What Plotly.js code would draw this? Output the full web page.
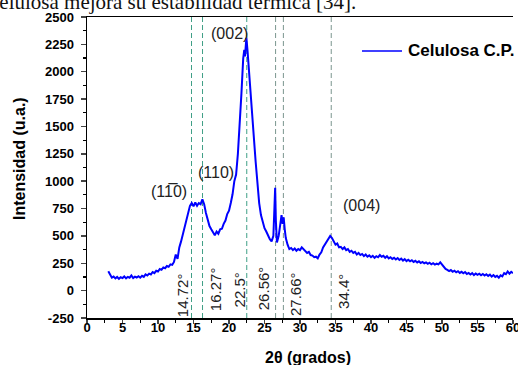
<!DOCTYPE html>
<html>
<head>
<meta charset="utf-8">
<script src="https://cdn.plot.ly/plotly-3.0.1.min.js"></script>
<style>html,body{margin:0;padding:0;background:#fff;}#chart{width:518px;height:365px;}</style>
</head>
<body>
<div id="chart"></div>
<script>
// 2θ (degrees) and intensity (a.u.)
const twoTheta = [
3.0,3.25,3.5,3.75,4.0,4.25,4.5,4.75,5.0,5.25,5.5,5.75,6.0,6.25,6.5,6.75,7.0,7.25,7.5,7.75,
8.0,8.25,8.5,8.75,9.0,9.25,9.5,9.75,10.0,10.25,10.5,10.75,11.0,11.25,11.5,11.75,12.0,12.25,12.5,12.75,
13.0,13.25,13.5,13.75,14.0,14.25,14.5,14.75,15.0,15.25,15.5,15.75,16.0,16.25,16.5,16.75,17.0,17.25,17.5,17.75,
18.0,18.25,18.5,18.75,19.0,19.25,19.5,19.75,20.0,20.25,20.5,20.75,21.0,21.25,21.5,21.75,22.0,22.15,22.25,22.45,
22.6,22.75,23.0,23.25,23.5,23.75,24.0,24.25,24.5,24.75,25.0,25.25,25.5,25.75,26.0,26.25,26.4,26.5,26.6,26.75,
27.0,27.25,27.4,27.55,27.7,27.85,28.0,28.25,28.5,28.75,29.0,29.25,29.5,29.75,30.0,30.25,30.5,30.75,31.0,31.25,
31.5,31.75,32.0,32.25,32.5,32.75,33.0,33.25,33.5,33.75,34.0,34.25,34.5,34.75,35.0,35.25,35.5,35.75,36.0,36.25,
36.5,36.75,37.0,37.25,37.5,37.75,38.0,38.25,38.5,38.75,39.0,39.25,39.5,39.75,40.0,40.25,40.5,40.75,41.0,41.25,
41.5,41.75,42.0,42.25,42.5,42.75,43.0,43.25,43.5,43.75,44.0,44.25,44.5,44.75,45.0,45.25,45.5,45.75,46.0,46.25,
46.5,46.75,47.0,47.25,47.5,47.75,48.0,48.25,48.5,48.75,49.0,49.25,49.5,49.75,50.0,50.25,50.5,50.75,51.0,51.25,
51.5,51.75,52.0,52.25,52.5,52.75,53.0,53.25,53.5,53.75,54.0,54.25,54.5,54.75,55.0,55.25,55.5,55.75,56.0,56.25,
56.5,56.75,57.0,57.25,57.5,57.75,58.0,58.25,58.5,58.75,59.0,59.25,59.5,59.75,60.0
];
const intensity = [
178,140,118,128,112,125,108,122,115,130,112,126,118,138,115,128,120,132,118,135,
125,148,138,155,148,170,160,182,175,198,190,212,205,225,218,240,235,262,330,290,
395,450,520,590,650,720,775,800,770,805,775,800,790,835,790,710,640,590,560,525,
505,540,520,560,565,610,640,700,730,800,880,1000,1060,1250,1480,1800,2120,2200,2140,2310,
2200,2050,1820,1600,1400,1180,960,800,690,620,570,540,500,470,450,500,760,940,640,440,
500,620,690,610,670,560,480,420,380,390,370,385,365,380,370,395,375,360,345,355,
325,320,305,310,295,330,350,395,420,450,465,500,480,450,420,430,395,400,380,395,
370,380,355,365,345,355,330,345,325,335,315,330,310,322,305,318,300,315,305,325,
310,318,300,315,295,305,290,300,285,298,280,292,275,288,270,282,268,278,262,272,
258,268,252,262,250,258,245,255,240,250,238,246,240,258,240,215,198,190,178,188,
172,182,168,178,162,172,158,170,152,162,148,160,142,156,145,155,140,152,138,150,
135,146,128,142,125,135,118,140,130,160,150,175,155,172,160
];
const seriesName = "Celulosa C.P.";
const xTitle = "2θ (grados)";
const yTitle = "Intensidad (u.a.)";

// axis tick values and labels
const xTickVals = [0, 5, 10, 15, 20, 25, 30, 35, 40, 45, 50, 55, 60];
const xTickText = ["0", "5", "10", "15", "20", "25", "30", "35", "40", "45", "50", "55", "60"];
const yTickVals = [-250, 0, 250, 500, 750, 1000, 1250, 1500, 1750, 2000, 2250, 2500];
const yTickText = ["-250", "0", "250", "500", "750", "1000", "1250", "1500", "1750", "2000", "2250", "2500"];

// reference lines (2θ) and their labels
const refLines = [14.72, 16.27, 22.5, 26.56, 27.66, 34.4];
const refLabels = ["14.72°", "16.27°", "22.5°", "26.56°", "27.66°", "34.4°"];

// Miller index labels
const peakLabels = ["(11\u03050)", "(110)", "(002)", "(004)"];
const peakX = [11.5, 18.1, 20.0, 38.6];
const peakY = [910, 1076, 2353, 775];

// ---- styling / placement ----
const W = 518, H = 365, M = {l: 87, r: 5, t: 17, b: 47};
const PW = W - M.l - M.r, PH = H - M.t - M.b;
const px2paperX = (p) => (p - M.l) / PW;
const px2paperY = (p) => (H - M.b - p) / PH;

const labelShift = [-9, 13, -7, -12, 12, 12];
const labelYShift = [-5, 1, 1, 2, -3, -1];
const lineColors = ["#3f9f86", "#3f9f86", "#3f9f86", "#7a968f", "#7a968f", "#7a968f"];
const sans = "Liberation Sans, Arial, sans-serif";

const shapes = refLines.map((v, i) => ({
  type: "line", xref: "x", yref: "paper", x0: v, x1: v, y0: 0, y1: 1,
  line: {color: lineColors[i], width: 1, dash: "5px,3px"}, layer: "below"
}));
// legend sample line
shapes.push({
  type: "line", xref: "paper", yref: "paper",
  x0: px2paperX(362), x1: px2paperX(402), y0: px2paperY(51), y1: px2paperY(51),
  line: {color: "#0000ff", width: 1.6}
});

const labelFont = {family: sans, size: 15, color: "#222"};
const annotations = [];
refLines.forEach((v, i) => {
  annotations.push({
    x: v, y: 0, xref: "x", yref: "y", text: refLabels[i], showarrow: false,
    textangle: -90, xanchor: "center", yanchor: "middle",
    xshift: labelShift[i], yshift: labelYShift[i], font: labelFont
  });
});
peakLabels.forEach((t, i) => {
  annotations.push({
    x: peakX[i], y: peakY[i], xref: "x", yref: "y", text: t, showarrow: false,
    xanchor: "center", yanchor: "middle", font: {family: sans, size: 16, color: "#222"}
  });
});
// legend text
annotations.push({
  x: px2paperX(406), y: px2paperY(51), xref: "paper", yref: "paper",
  text: seriesName, showarrow: false, xanchor: "left", yanchor: "middle",
  font: {family: sans, size: 17, color: "#000", weight: "bold"}
});
// axis titles
annotations.push({
  x: px2paperX(308), y: px2paperY(357), xref: "paper", yref: "paper",
  text: xTitle, showarrow: false, xanchor: "center", yanchor: "middle",
  font: {family: sans, size: 16, color: "#000", weight: "bold"}
});
annotations.push({
  x: px2paperX(19), y: px2paperY(159), xref: "paper", yref: "paper",
  text: yTitle, showarrow: false, xanchor: "center", yanchor: "middle", textangle: -90,
  font: {family: sans, size: 16, color: "#000", weight: "bold"}
});
// cut-off running text above the figure
annotations.push({
  x: px2paperX(-12), y: px2paperY(2), xref: "paper", yref: "paper",
  text: "celulosa mejora su estabilidad térmica [34].", showarrow: false,
  xanchor: "left", yanchor: "middle",
  font: {family: "Liberation Serif, Times New Roman, serif", size: 21, color: "#111"}
});

const trace = {
  x: twoTheta, y: intensity, type: "scatter", mode: "lines", name: seriesName,
  line: {color: "#0000ff", width: 2}, showlegend: false
};

const tickFont = {family: sans, size: 13, color: "#000", weight: "bold"};

const layout = {
  width: W, height: H,
  margin: {l: M.l, r: M.r, t: M.t, b: M.b, pad: 0},
  paper_bgcolor: "#fff", plot_bgcolor: "#fff",
  showlegend: false,
  xaxis: {
    range: [0, 60], tickmode: "array", tickvals: xTickVals, ticktext: xTickText,
    ticks: "outside", ticklen: 4, tickwidth: 1.5, ticklabeloverflow: "allow", ticklabelstandoff: -7,
    showline: true, linewidth: 1.5, linecolor: "#000", mirror: true,
    showgrid: false, zeroline: false, tickfont: tickFont,
    minor: {ticks: "outside", dtick: 2.5, ticklen: 3, tickwidth: 1.2, tickcolor: "#000", showgrid: false}
  },
  yaxis: {
    range: [-250, 2500], tickmode: "array", tickvals: yTickVals, ticktext: yTickText,
    ticks: "outside", ticklen: 5, tickwidth: 1.5,
    showline: true, linewidth: 1.5, linecolor: "#000",
    showgrid: false, zeroline: false, tickfont: tickFont, ticklabelstandoff: 4,
    minor: {ticks: "outside", dtick: 125, ticklen: 3, tickwidth: 1.2, tickcolor: "#000", showgrid: false}
  },
  shapes: shapes,
  annotations: annotations
};

Plotly.newPlot("chart", [trace], layout, {displayModeBar: false, staticPlot: true});
</script>
</body>
</html>
